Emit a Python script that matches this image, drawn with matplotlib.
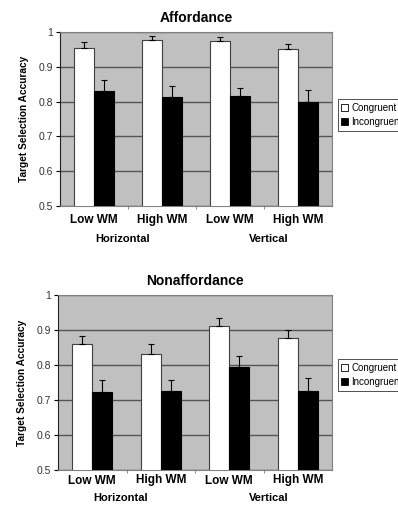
import numpy as np
import matplotlib
matplotlib.use("Agg")
import matplotlib.pyplot as plt
from matplotlib.patches import Patch

plt.rcParams['font.family'] = ['Liberation Sans', 'DejaVu Sans']

# data
conditions = ['Low WM', 'High WM', 'Low WM', 'High WM']
orientations = ['Horizontal', 'Vertical']
series_names = ['Congruent', 'Incongruent']

aff_cong = [0.953, 0.978, 0.973, 0.952]
aff_cong_err = [0.019, 0.011, 0.014, 0.014]
aff_incong = [0.831, 0.813, 0.815, 0.800]
aff_incong_err = [0.032, 0.033, 0.025, 0.032]

non_cong = [0.860, 0.832, 0.910, 0.878]
non_cong_err = [0.022, 0.027, 0.025, 0.021]
non_incong = [0.723, 0.727, 0.794, 0.725]
non_incong_err = [0.033, 0.029, 0.032, 0.037]

yticks = [0.5, 0.6, 0.7, 0.8, 0.9, 1.0]
ytick_labels = ['0.5', '0.6', '0.7', '0.8', '0.9', '1']

W, H = 398, 509
fig = plt.figure(figsize=(W / 100, H / 100), dpi=100)


def draw_panel(rect, title, cong, cong_err, incong, incong_err, lab_off, grp_off, legend_y):
    ax = fig.add_axes(rect)
    ax.set_facecolor('#c0c0c0')
    x = np.arange(len(conditions))
    bw = 0.29
    ax.bar(x - bw / 2, cong, bw, color='white', edgecolor='#404040', linewidth=0.8, zorder=3)
    ax.bar(x + bw / 2, incong, bw, color='black', edgecolor='black', linewidth=0.8, zorder=3)
    ax.errorbar(x - bw / 2, cong, yerr=[np.zeros(4), cong_err], fmt='none', ecolor='black',
                elinewidth=0.8, capsize=2, capthick=0.8, zorder=4)
    ax.errorbar(x + bw / 2, incong, yerr=[np.zeros(4), incong_err], fmt='none', ecolor='black',
                elinewidth=0.8, capsize=2, capthick=0.8, zorder=4)
    ax.set_ylim(0.5, 1.0)
    ax.set_xlim(-0.5, 3.5)
    ax.set_yticks(yticks)
    ax.set_yticklabels(ytick_labels, fontsize=7.5, color='#333333')
    ax.yaxis.grid(True, color='#555555', linewidth=1.0, zorder=0)
    ax.set_axisbelow(True)
    ax.tick_params(axis='y', length=3, width=0.8, pad=2)
    ax.set_xticks(x)
    ax.set_xticklabels([])
    ax.tick_params(axis='x', length=0)
    ax.set_xticks([0.5, 1.5, 2.5], minor=True)
    ax.tick_params(axis='x', which='minor', length=2, width=0.6, color='#777777')
    for s in ['top', 'right', 'bottom']:
        ax.spines[s].set_color('#808080')
        ax.spines[s].set_linewidth(0.8)
    ax.spines['left'].set_color('#222222')
    for i, c in enumerate(conditions):
        ax.text(x[i], lab_off, c, transform=ax.get_xaxis_transform(), ha='center', va='center',
                fontsize=8.5, fontweight='bold')
    for o, gx in zip(orientations, [0.42, 2.57]):
        ax.text(gx, grp_off, o, transform=ax.get_xaxis_transform(), ha='center', va='center',
                fontsize=8, fontweight='bold')
    ax.set_title(title, fontsize=10, fontweight='bold', pad=7)
    ax.set_ylabel('Target Selection Accuracy', fontsize=7.3, fontweight='bold', labelpad=7)
    handles = [Patch(facecolor='white', edgecolor='black', linewidth=0.6),
               Patch(facecolor='black', edgecolor='black', linewidth=0.6)]
    leg = fig.legend(handles, series_names, loc='center left', bbox_to_anchor=(338 / W, legend_y),
                     fontsize=7, frameon=True, fancybox=False, handlelength=0.7, handleheight=0.7,
                     handletextpad=0.3, borderpad=0.35, labelspacing=0.45, borderaxespad=0)
    leg.get_frame().set_edgecolor('black')
    leg.get_frame().set_linewidth(0.6)
    return ax


draw_panel([60 / W, 1 - 206 / H, 272 / W, 174 / H], 'Affordance',
           aff_cong, aff_cong_err, aff_incong, aff_incong_err, -0.08, -0.19, 1 - 115 / H)
draw_panel([58 / W, 1 - 470 / H, 274 / W, 175 / H], 'Nonaffordance',
           non_cong, non_cong_err, non_incong, non_incong_err, -0.06, -0.16, 1 - 375 / H)

fig.savefig('out.png', dpi=100)
